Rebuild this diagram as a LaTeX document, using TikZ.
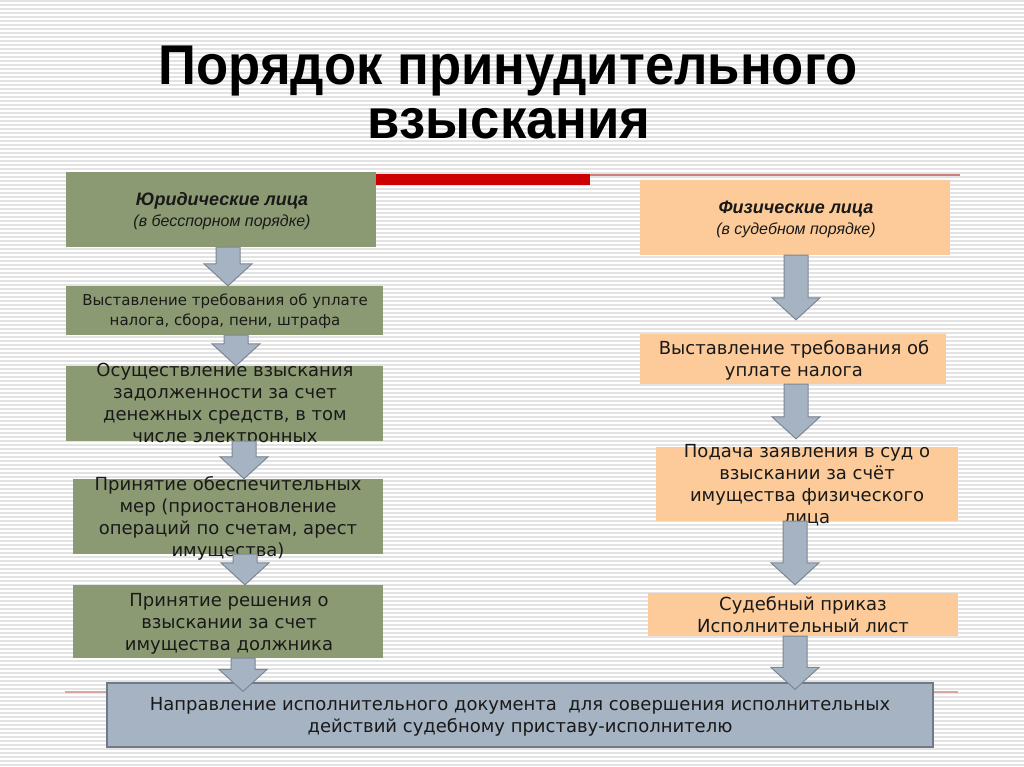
\documentclass[tikz,border=0pt]{standalone}
\usepackage{fontspec}
\setmainfont{DejaVu Sans}
\newfontfamily\headfont{Liberation Sans}
\newfontfamily\titlefont[FakeStretch=0.94]{Liberation Sans}
\usetikzlibrary{calc}
\definecolor{jurgreen}{HTML}{8C9A73}
\definecolor{physpeach}{HTML}{FCCB99}
\definecolor{steelfill}{HTML}{A5B3C3}
\definecolor{steelline}{HTML}{7C8794}
\definecolor{barred}{HTML}{CC0000}
\definecolor{rulered}{HTML}{C9807C}

% block arrow: x position, start point, tip point
\newcommand{\flowarrow}[3]{%
  \path[arrowbody] let \p1=(#2), \p2=(#3) in
    (#1pt-12pt,\y1) -- (#1pt+12pt,\y1) -- (#1pt+12pt,\y2+22pt) -- (#1pt+24pt,\y2+22pt)
    -- (#1pt,\y2) -- (#1pt-24pt,\y2+22pt) -- (#1pt-12pt,\y2+22pt) -- cycle;}

\begin{document}
\begin{tikzpicture}[x=1pt, y=-1pt,
  stripe/.style={draw=gray!22, line width=2pt},
  arrowbody/.style={fill=steelfill, draw=steelline, line width=1pt},
  box size/.style 2 args={minimum width=#1pt, minimum height=#2pt, inner sep=0pt},
  jurbox/.style={fill=jurgreen},
  physbox/.style={fill=physpeach},
  boxtext/.style={align=center, inner sep=0pt, text=black!90, font=\fontsize{18}{22}\selectfont},
  headtext/.style={align=center, inner sep=0pt, text=black!90, font=\headfont\fontsize{18}{21}\selectfont},
  titletext/.style={inner sep=0pt, font=\titlefont\bfseries\fontsize{56}{60}\selectfont}]
\useasboundingbox (0,0) rectangle (1024,767);
\fill[white] (0,0) rectangle (1024,767);
\foreach \k in {1,5,...,767} \draw[stripe] (0,\k) -- (1024,\k);

% rules
\draw[rulered, line width=1.5pt] (376,175) -- (960,175);
\fill[barred] (376,174) rectangle (590,185);
\draw[rulered!70, line width=1.5pt] (65,692) -- (958,692);

% title
\node[titletext] (title1) at (508,71) {Порядок принудительного};
\node[titletext] (title2) at (509,124) {взыскания};

% legal persons
\node[jurbox, box size={310}{75}] (jur) at (221,209.5) {};
\node[headtext] at (222,211) {\textbf{\textit{Юридические лица}}\\\fontsize{16}{21}\selectfont\textit{(в бесспорном порядке)}};
\node[jurbox, box size={317}{49}] (jurdemand) at (224.5,310.5) {};
\node[boxtext, font=\fontsize{15}{20}\selectfont] at (225,311) {Выставление требования об уплате\\налога, сбора, пени, штрафа};
\node[jurbox, box size={317}{75}] (jurcash) at (224.5,403.5) {};
\node[boxtext] at (225,405) {Осуществление взыскания\\задолженности за счет\\денежных средств, в том\\числе электронных};
\node[jurbox, box size={310}{75}] (jurfreeze) at (228,516.5) {};
\node[boxtext] at (228,518) {Принятие обеспечительных\\мер (приостановление\\операций по счетам, арест\\имущества)};
\node[jurbox, box size={310}{73}] (jurdecision) at (228,621.5) {};
\node[boxtext] at (229,624) {Принятие решения о\\взыскании за счет\\имущества должника};

% natural persons
\node[physbox, box size={310}{75}] (phys) at (795,217.5) {};
\node[headtext] at (796,219) {\textbf{\textit{Физические лица}}\\\fontsize{16}{21}\selectfont\textit{(в судебном порядке)}};
\node[physbox, box size={306}{50}] (physdemand) at (793,359) {};
\node[boxtext] at (794,360) {Выставление требования об\\уплате налога};
\node[physbox, box size={302}{74}] (physclaim) at (807,484) {};
\node[boxtext] at (807,485) {Подача заявления в суд о\\взыскании за счёт\\имущества физического\\лица};
\node[physbox, box size={310}{43}] (physorder) at (803,614.5) {};
\node[boxtext] at (803,615) {Судебный приказ\\Исполнительный лист};

% common step
\node[fill=steelfill, draw=steelline!90!black, line width=1.2pt, box size={826}{64}] (enforce) at (520,715) {};
\node[boxtext] at (520,717) {Направление исполнительного документа\ \ для совершения исполнительных\\действий судебному приставу-исполнителю};

% arrows
\flowarrow{228}{jur.south}{jurdemand.north}
\flowarrow{236}{jurdemand.south}{jurcash.north}
\flowarrow{244}{jurcash.south}{jurfreeze.north}
\flowarrow{245}{jurfreeze.south}{jurdecision.north}
\flowarrow{243}{jurdecision.south}{[yshift=-9pt]enforce.north}
\flowarrow{796}{phys.south}{[yshift=14pt]physdemand.north}
\flowarrow{796}{physdemand.south}{[yshift=8pt]physclaim.north}
\flowarrow{795}{physclaim.south}{[yshift=8pt]physorder.north}
\flowarrow{795}{physorder.south}{[yshift=-7pt]enforce.north}
\end{tikzpicture}
\end{document}
